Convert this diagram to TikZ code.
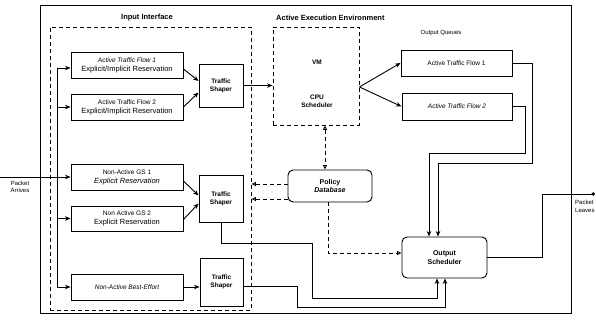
\documentclass[tikz,border=0pt]{standalone}
\usepackage{fontspec}
\setmainfont{Liberation Sans}
\usetikzlibrary{arrows.meta,calc}

\tikzset{
  box/.style={draw, line width=0.95pt, align=center, inner sep=1pt,
              font=\fontsize{7.5}{9}\selectfont},
  rbox/.style={box, rounded corners=5pt},
  shaper/.style={box, font=\bfseries\fontsize{6.5}{8}\selectfont},
  region/.style={draw, line width=0.9pt, dash pattern=on 4pt off 3pt},
  flow/.style={line width=0.9pt, -{Stealth[length=5.5pt,width=4.5pt]}},
  wire/.style={line width=0.9pt},
  pol/.style={line width=0.9pt, dash pattern=on 4pt off 3pt},
  poltip/.tip={Triangle[open,length=4.5pt,width=4pt]},
  heading/.style={font=\bfseries\fontsize{7.5}{9}\selectfont, inner sep=0pt},
  small/.style={font=\fontsize{6}{7.5}\selectfont, inner sep=0pt, align=left},
}

\begin{document}
\begin{tikzpicture}[x=1pt, y=-1pt]
  \useasboundingbox (0,0) rectangle (596,324);

  % outer frame and dashed regions
  \draw[line width=0.8pt] (40,5) rectangle (571,313);
  \node[region, minimum width=201pt, minimum height=283pt, inner sep=0pt] (iif) at (150.5,168.5) {};
  \node[region, minimum width=86pt, minimum height=98pt, inner sep=0pt] (aee) at (316,76) {};

  % region headings
  \node[heading] (hif) at (147,18) {Input Interface};
  \node[heading, anchor=west] (haee) at (276,18) {Active Execution Environment};
  \node[small] (hoq) at (441,33) {Output Queues};

  % execution environment contents
  \node[font=\bfseries\fontsize{6.5}{8}\selectfont, inner sep=0pt] (vm) at (317,62) {VM};
  \node[font=\bfseries\fontsize{6.5}{8}\selectfont, inner sep=0pt, align=center] (cpu) at (317,101) {CPU\\Scheduler};

  % input queues
  \node[box, minimum width=112pt, minimum height=26pt] (atf1) at (127,65)
    {{\itshape\fontsize{6.5}{8}\selectfont Active Traffic Flow 1}\\Explicit/Implicit Reservation};
  \node[box, minimum width=112pt, minimum height=26pt] (atf2) at (127,107)
    {{\fontsize{6.5}{8}\selectfont Active Traffic Flow 2}\\Explicit/Implicit Reservation};
  \node[box, minimum width=112pt, minimum height=26pt] (gs1) at (127,177)
    {{\fontsize{6.5}{8}\selectfont Non-Active GS 1}\\\itshape Explicit Reservation};
  \node[box, minimum width=112pt, minimum height=25pt] (gs2) at (127,218.5)
    {{\fontsize{6.5}{8}\selectfont Non Active GS 2}\\Explicit Reservation};
  \node[box, minimum width=112pt, minimum height=26pt, font=\itshape\fontsize{6.5}{8}\selectfont] (be) at (127,287)
    {Non-Active Best-Effort};

  % traffic shapers
  \node[shaper, minimum width=44pt, minimum height=43pt] (ts1) at (221,85.5) {Traffic\\Shaper};
  \node[shaper, minimum width=44pt, minimum height=47pt] (ts2) at (221,198.5) {Traffic\\Shaper};
  \node[shaper, minimum width=43pt, minimum height=48pt] (ts3) at (221.5,282) {Traffic\\Shaper};

  % output queues
  \node[box, minimum width=111pt, minimum height=26pt, font=\fontsize{6.5}{8}\selectfont] (oq1) at (456.5,63) {Active Traffic Flow 1};
  \node[box, minimum width=110pt, minimum height=27pt, font=\itshape\fontsize{6.5}{8}\selectfont] (oq2) at (457,106.5) {Active Traffic Flow 2};

  % policy database and output scheduler
  \node[rbox, minimum width=84pt, minimum height=32pt, font=\bfseries\fontsize{7}{8.5}\selectfont] (pd) at (330,186) {Policy\\\itshape Database};
  \node[rbox, minimum width=85pt, minimum height=41pt, font=\bfseries\fontsize{7}{8.5}\selectfont] (os) at (444.5,257.5) {Output\\Scheduler};

  % arriving packets and input bus
  \coordinate (pin) at (0,177);
  \coordinate (busTop) at (57,68);
  \coordinate (busBot) at (57,287);
  \node[small, align=center] (larr) at (20,187) {Packet\\Arrives};
  \draw[wire] (busTop) -- (busBot);
  \draw[flow] (pin) -- (gs1.west);
  \draw[flow] (busTop) -- (atf1.west |- busTop);
  \draw[flow] (busTop |- atf2.west) -- (atf2.west);
  \draw[flow] (busTop |- gs2.west) -- (gs2.west);
  \draw[flow] (busBot) -- (be.west);

  % queues into shapers
  \draw[flow] ([yshift=-4pt]atf1.east) -- ([yshift=4.5pt]ts1.west);
  \draw[flow] (atf2.east) -- ([yshift=-7pt]ts1.west);
  \draw[flow] ([yshift=-4pt]gs1.east) -- ([yshift=3pt]ts2.west);
  \draw[flow] ([yshift=-1pt]gs2.east) -- ([yshift=-5pt]ts2.west);
  \draw[flow] (be.east) -- (ts3.west |- be.east);

  % active path through the execution environment
  \draw[flow] (ts1.east) -- (aee.west |- ts1.east);
  \coordinate (aout) at ([yshift=-11pt]aee.east);
  \draw[flow] (aout) -- (oq1.west);
  \draw[flow] (aout) -- (oq2.west);

  % output queues into the scheduler
  \draw[flow] (oq1.east) -| (532,163) -| ([xshift=-6.5pt]os.north);
  \draw[flow] (oq2.east) -| (525,153) -| ([xshift=-15.5pt]os.north);

  % non-active traffic into the scheduler
  \draw[flow] (ts2.south) |- (312,243) -- (312,298) -| ([xshift=-7.5pt]os.south);
  \draw[flow] ([yshift=-4.5pt]ts3.east) -| (297,307) -| ([xshift=0.5pt]os.south);

  % leaving packets
  \coordinate (pout) at (595,194);
  \draw[wire, -{Circle[length=3.5pt]}] (os.east) -| (542,194) -- (pout);
  \node[small, anchor=north west] (lleave) at (575,200) {Packet\\Leaves};

  % policy control paths
  \coordinate (pdtop) at ([xshift=-5pt]pd.north);
  \coordinate (pdl1) at ([yshift=2pt]pd.west);
  \coordinate (pdl2) at ([yshift=-13pt]pd.west);
  \draw[pol, poltip-poltip] (aee.south -| pdtop) -- (pdtop);
  \draw[pol, -poltip] (pdl1) -- (iif.east |- pdl1);
  \draw[pol, -poltip] (pdl2) -- (iif.east |- pdl2);
  \draw[pol, -poltip] ([xshift=-2pt]pd.south) |- ([yshift=4.5pt]os.west);
\end{tikzpicture}
\end{document}
